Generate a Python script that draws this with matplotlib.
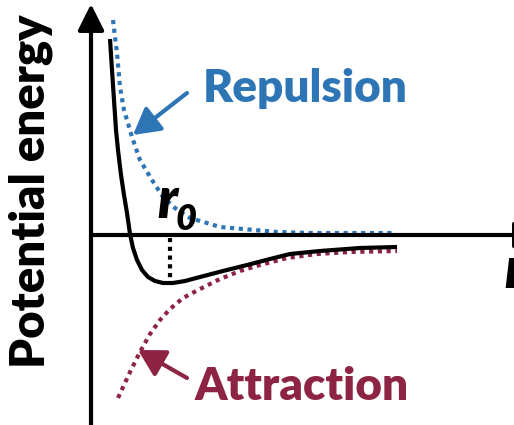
import numpy as np
import matplotlib.pyplot as plt

# Lennard-Jones type sketch: total potential with its repulsive and attractive parts
r_total = [0.19, 0.21, 0.23, 0.25, 0.27, 0.30, 0.33, 0.36, 0.39, 0.42, 0.46, 0.51,
           0.57, 0.64, 0.72, 0.82, 0.94, 1.09, 1.32, 1.56, 1.79, 1.99, 2.29, 2.69, 3.06]
e_total = [1.96, 1.65, 1.35, 1.05, 0.85, 0.60, 0.40, 0.22, 0.01, -0.13, -0.25, -0.35,
           -0.42, -0.46, -0.48, -0.48, -0.46, -0.42, -0.36, -0.30, -0.24, -0.19, -0.16, -0.13, -0.12]

r_rep = [0.22, 0.24, 0.26, 0.29, 0.33, 0.36, 0.41, 0.49, 0.61, 0.72, 0.84, 0.99,
         1.16, 1.29, 1.52, 1.86, 2.19, 3.04]
e_rep = [2.15, 1.98, 1.82, 1.48, 1.25, 1.15, 0.98, 0.75, 0.55, 0.38, 0.27, 0.17,
         0.12, 0.08, 0.06, 0.03, 0.02, 0.02]

r_att = [0.27, 0.33, 0.39, 0.49, 0.59, 0.69, 0.79, 0.92, 1.09, 1.29, 1.49, 1.69,
         1.96, 2.26, 2.59, 3.06]
e_att = [-1.63, -1.50, -1.37, -1.17, -0.99, -0.85, -0.74, -0.63, -0.54, -0.44, -0.36,
         -0.30, -0.23, -0.19, -0.17, -0.16]

r0 = 0.79
e_min = -0.46

blue = '#2E75B6'
red = '#8E2443'
font = 'Lato'
weight = 'heavy'

fig = plt.figure(figsize=(5.14, 4.25), dpi=100)
ax = fig.add_axes([0, 0, 1, 1])
ax.set_xlim(-0.91, 4.23)
ax.set_ylim(-1.90, 2.35)
ax.axis('off')

# axes with arrow heads
axis_arrow = dict(arrowstyle='-|>,head_length=0.8,head_width=0.4',
                  lw=3, color='black', mutation_scale=20, shrinkA=0, shrinkB=0)
ax.annotate('', xy=(0, 2.31), xytext=(0, -1.95), arrowprops=axis_arrow,
            annotation_clip=False)
ax.annotate('', xy=(4.50, 0), xytext=(0, 0), arrowprops=axis_arrow,
            annotation_clip=False)

dot = (0, (1, 1.1))
ax.plot(r_rep, e_rep, color=blue, lw=3, linestyle=dot)
ax.plot(r_att, e_att, color=red, lw=3, linestyle=dot)
ax.plot(r_total, e_total, color='black', lw=3, solid_capstyle='butt')
ax.plot([r0, r0], [-0.03, e_min + 0.02], color='black', lw=3, linestyle=dot)

# labels
ax.text(-0.46, 0.44, 'Potential energy', rotation=90, rotation_mode='anchor',
        ha='center', va='baseline', fontsize=34, fontweight=weight, family=font)
ax.text(1.12, 1.33, 'Repulsion', color=blue, ha='left', va='baseline',
        fontsize=33, fontweight=weight, family=font)
ax.text(1.04, -1.65, 'Attraction', color=red, ha='left', va='baseline',
        fontsize=33, fontweight=weight, family=font)
ax.text(0.66, 0.17, 'r', ha='left', va='baseline', fontsize=40,
        fontweight=weight, style='italic', family=font)
ax.text(0.85, 0.05, '0', ha='left', va='baseline', fontsize=26,
        fontweight=weight, style='italic', family=font)
ax.text(4.13, -0.53, 'r', ha='left', va='baseline', fontsize=40,
        fontweight=weight, style='italic', family=font)

# pointer arrows to the component curves
ax.annotate('', xy=(0.42, 1.00), xytext=(0.96, 1.42),
            arrowprops=dict(arrowstyle='-|>,head_length=0.8,head_width=0.45',
                            lw=3, color=blue, mutation_scale=20,
                            shrinkA=0, shrinkB=0))
ax.annotate('', xy=(0.47, -1.15), xytext=(0.96, -1.43),
            arrowprops=dict(arrowstyle='-|>,head_length=0.8,head_width=0.45',
                            lw=3, color=red, mutation_scale=20,
                            shrinkA=0, shrinkB=0))

fig.savefig('out.png', dpi=100)
